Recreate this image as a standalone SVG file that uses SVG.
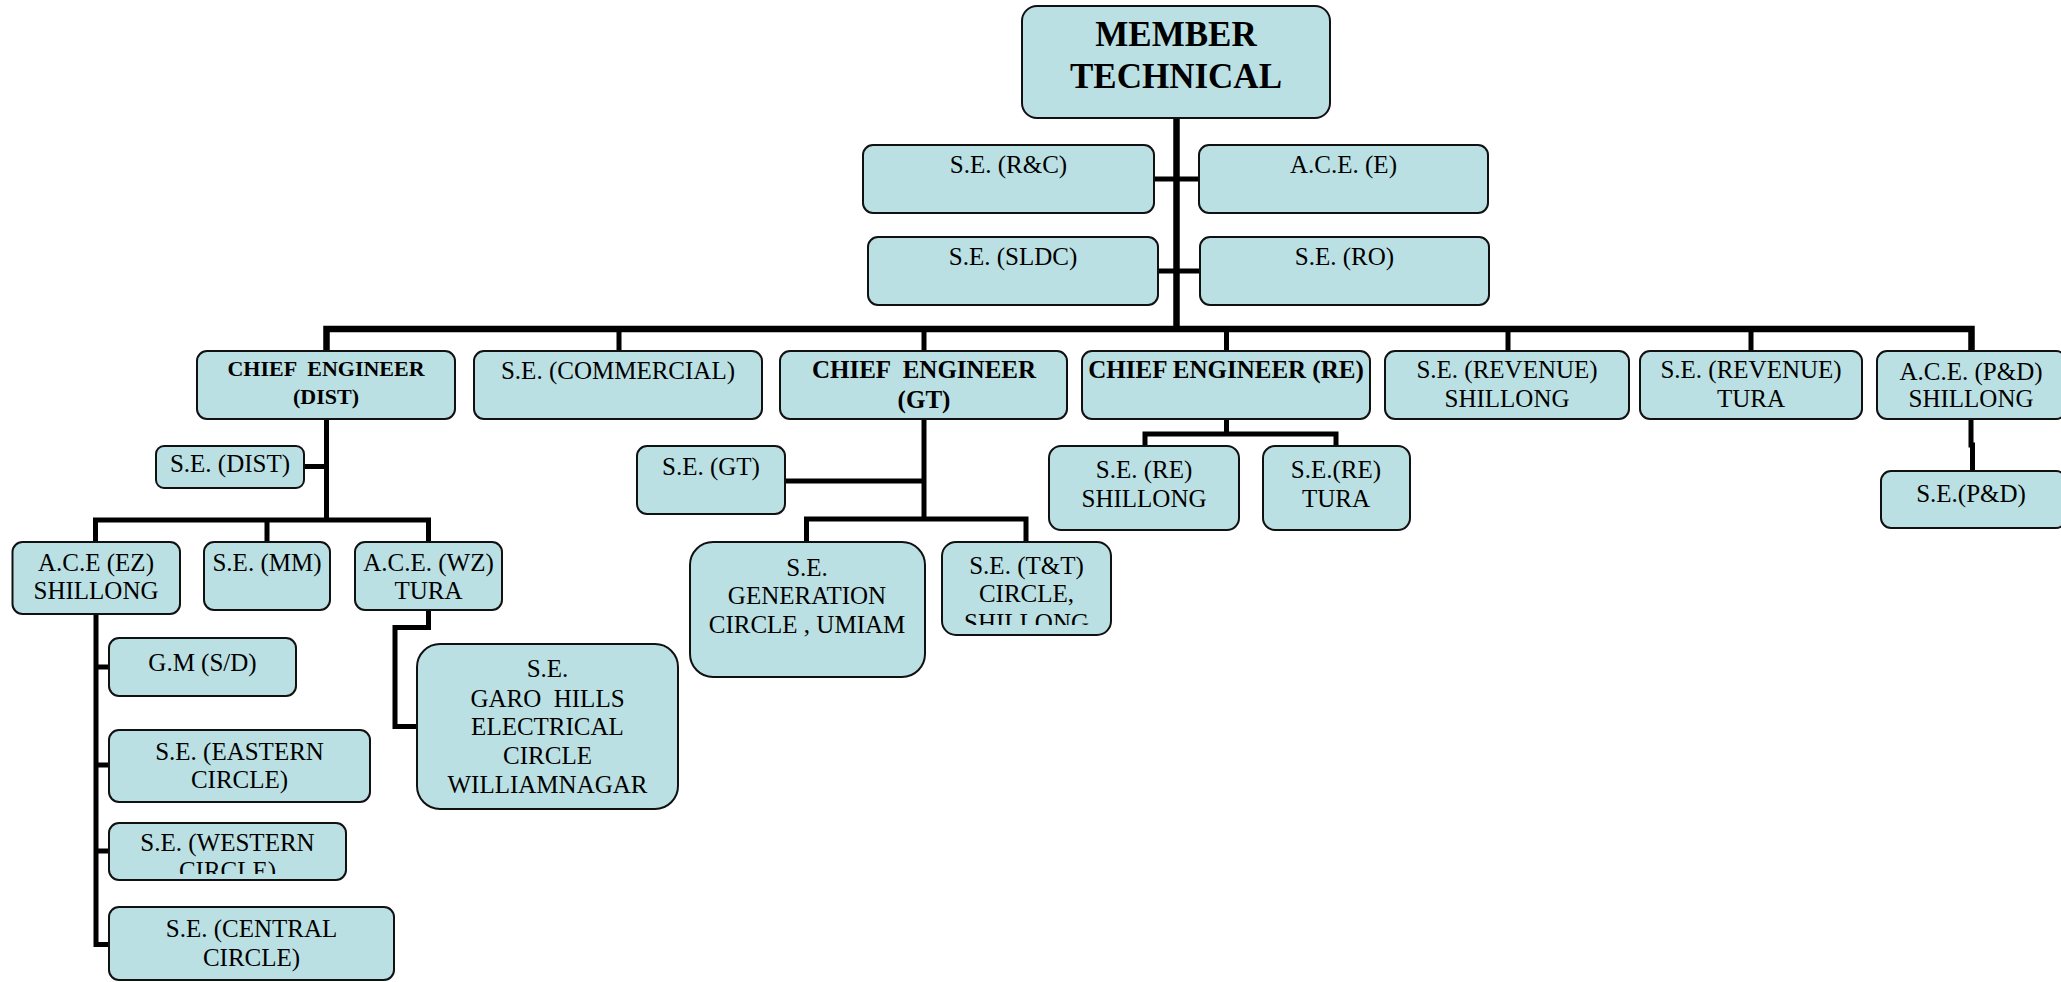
<svg xmlns="http://www.w3.org/2000/svg" width="2061" height="982" viewBox="0 0 2061 982">
<style>
.b{fill:#BBE0E3;stroke:#111;stroke-width:2}
.t{font-family:"Liberation Serif","Times New Roman",serif;font-size:25px;fill:#000;text-anchor:middle}
.tb{font-family:"Liberation Serif","Times New Roman",serif;font-weight:bold;font-size:25px;fill:#000;text-anchor:middle}
.c{fill:none;stroke:#000;stroke-width:5;stroke-linejoin:miter;stroke-linecap:square}
.cm{fill:none;stroke:#000;stroke-width:6.5;stroke-linejoin:miter}
</style>
<defs>
<clipPath id="clipTT"><rect x="942" y="542" width="169" height="83"/></clipPath>
<clipPath id="clipWE"><rect x="109" y="823" width="237" height="51"/></clipPath>
</defs>
<rect width="2061" height="982" fill="#fff"/>
<g id="connectors">
<path class="cm" d="M1176.5,118 V329"/>
<path class="cm" d="M326.5,351 V329 H1971.5 V351"/>
<path class="c" d="M619,329 V351 M924,329 V351 M1226.5,329 V351 M1508,329 V351 M1751,329 V351"/>
<path class="c" d="M1154,179 H1199 M1158,271 H1200"/>
<path class="c" d="M326.5,419 V520 M304,466.5 H326.5 M95.5,542 V520 H428.5 V542 M267,520 V542"/>
<path class="c" d="M924,419 V519 M785,481 H924 M806.5,542 V519 H1026 V542"/>
<path class="c" d="M1226.5,419 V434 M1145,446 V434 H1336 V446"/>
<path class="c" d="M1971,419 V445 M1972.5,445 V471"/>
<path class="c" d="M96,614 V944.5 M96,667 H109 M96,765 H109 M96,851 H109 M96,944.5 H109"/>
<path class="c" d="M428.5,610 V627.5 H395 V726.5 H417"/>
</g>
<g id="member-technical"><rect class="b" x="1022" y="6" width="308" height="112" rx="15"/>
<text class="tb" style="font-size:35px" x="1176" y="46">MEMBER</text><text class="tb" style="font-size:35px" x="1176" y="88">TECHNICAL</text></g>
<g id="se-rc"><rect class="b" x="863" y="145" width="291" height="68" rx="10"/><text class="t" x="1008.5" y="173">S.E. (R&amp;C)</text></g>
<g id="ace-e"><rect class="b" x="1199" y="145" width="289" height="68" rx="10"/><text class="t" x="1343.5" y="173">A.C.E. (E)</text></g>
<g id="se-sldc"><rect class="b" x="868" y="237" width="290" height="68" rx="10"/><text class="t" x="1013" y="265">S.E. (SLDC)</text></g>
<g id="se-ro"><rect class="b" x="1200" y="237" width="289" height="68" rx="10"/><text class="t" x="1344.5" y="265">S.E. (RO)</text></g>
<g id="ce-dist"><rect class="b" x="197" y="351" width="258" height="68" rx="10"/>
<text class="tb" style="font-size:22px" x="326" y="376" xml:space="preserve">CHIEF  ENGINEER</text><text class="tb" style="font-size:22px" x="326" y="404">(DIST)</text></g>
<g id="se-commercial"><rect class="b" x="474" y="351" width="288" height="68" rx="10"/><text class="t" x="618" y="379">S.E. (COMMERCIAL)</text></g>
<g id="ce-gt"><rect class="b" x="780" y="351" width="287" height="68" rx="10"/>
<text class="tb" x="924" y="378" xml:space="preserve">CHIEF  ENGINEER</text><text class="tb" x="924" y="408">(GT)</text></g>
<g id="ce-re"><rect class="b" x="1082" y="351" width="288" height="68" rx="10"/><text class="tb" x="1226" y="378">CHIEF ENGINEER (RE)</text></g>
<g id="se-revenue-shillong"><rect class="b" x="1385" y="351" width="244" height="68" rx="10"/>
<text class="t" x="1507" y="378">S.E. (REVENUE)</text><text class="t" x="1507" y="407">SHILLONG</text></g>
<g id="se-revenue-tura"><rect class="b" x="1640" y="351" width="222" height="68" rx="10"/>
<text class="t" x="1751" y="378">S.E. (REVENUE)</text><text class="t" x="1751" y="407">TURA</text></g>
<g id="ace-pd"><rect class="b" x="1877" y="351" width="189" height="68" rx="10"/>
<text class="t" x="1971" y="380">A.C.E. (P&amp;D)</text><text class="t" x="1971" y="407">SHILLONG</text></g>
<g id="se-dist"><rect class="b" x="156" y="446" width="148" height="42" rx="8"/><text class="t" x="230" y="472">S.E. (DIST)</text></g>
<g id="se-gt"><rect class="b" x="637" y="446" width="148" height="68" rx="10"/><text class="t" x="711" y="475">S.E. (GT)</text></g>
<g id="se-re-shillong"><rect class="b" x="1049" y="446" width="190" height="84" rx="12"/>
<text class="t" x="1144" y="478">S.E. (RE)</text><text class="t" x="1144" y="507">SHILLONG</text></g>
<g id="se-re-tura"><rect class="b" x="1263" y="446" width="147" height="84" rx="12"/>
<text class="t" x="1336" y="478">S.E.(RE)</text><text class="t" x="1336" y="507">TURA</text></g>
<g id="se-pd"><rect class="b" x="1881" y="471" width="185" height="57" rx="10"/><text class="t" x="1971" y="502">S.E.(P&amp;D)</text></g>
<g id="ace-ez"><rect class="b" x="12.5" y="542" width="167.5" height="72" rx="10"/>
<text class="t" x="96" y="571">A.C.E (EZ)</text><text class="t" x="96" y="599">SHILLONG</text></g>
<g id="se-mm"><rect class="b" x="204" y="542" width="126" height="68" rx="10"/><text class="t" x="267" y="571">S.E. (MM)</text></g>
<g id="ace-wz"><rect class="b" x="355" y="542" width="147" height="68" rx="10"/>
<text class="t" x="428.5" y="571">A.C.E. (WZ)</text><text class="t" x="428.5" y="599">TURA</text></g>
<g id="se-generation"><rect class="b" x="690" y="542" width="235" height="135" rx="23"/>
<text class="t" x="807" y="576">S.E.</text><text class="t" x="807" y="604">GENERATION</text><text class="t" x="807" y="633">CIRCLE , UMIAM</text></g>
<g id="se-tt"><rect class="b" x="942" y="542" width="169" height="93" rx="14"/>
<g clip-path="url(#clipTT)"><text class="t" x="1026.5" y="574">S.E. (T&amp;T)</text><text class="t" x="1026.5" y="602">CIRCLE,</text><text class="t" x="1026.5" y="631">SHILLONG</text></g></g>
<g id="gm-sd"><rect class="b" x="109" y="638" width="187" height="58" rx="10"/><text class="t" x="202.5" y="671">G.M (S/D)</text></g>
<g id="se-garo"><rect class="b" x="417" y="644" width="261" height="165" rx="23"/>
<text class="t" x="547.5" y="677">S.E.</text><text class="t" x="547.5" y="707" xml:space="preserve">GARO  HILLS</text><text class="t" x="547.5" y="735">ELECTRICAL</text><text class="t" x="547.5" y="764">CIRCLE</text><text class="t" x="547.5" y="793">WILLIAMNAGAR</text></g>
<g id="se-eastern"><rect class="b" x="109" y="730" width="261" height="72" rx="10"/>
<text class="t" x="239.5" y="760">S.E. (EASTERN</text><text class="t" x="239.5" y="788">CIRCLE)</text></g>
<g id="se-western"><rect class="b" x="109" y="823" width="237" height="57" rx="10"/>
<g clip-path="url(#clipWE)"><text class="t" x="227.5" y="851">S.E. (WESTERN</text><text class="t" x="227.5" y="879">CIRCLE)</text></g></g>
<g id="se-central"><rect class="b" x="109" y="907" width="285" height="73" rx="10"/>
<text class="t" x="251.5" y="937">S.E. (CENTRAL</text><text class="t" x="251.5" y="966">CIRCLE)</text></g>
</svg>
